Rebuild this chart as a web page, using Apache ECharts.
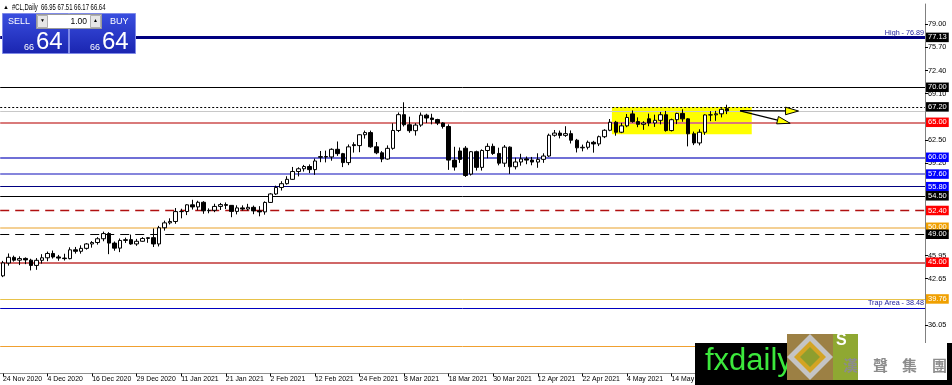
<!DOCTYPE html>
<html><head><meta charset="utf-8">
<script src="https://cdn.jsdelivr.net/npm/echarts@6/dist/echarts.min.js"></script>
<style>html,body{margin:0;padding:0;background:#fff}#c{width:952px;height:385px}</style>
</head><body><div id="c"></div>
<script>
// ---------- DATA ----------
const dates = ['24 Nov 2020','25 Nov 2020','26 Nov 2020','27 Nov 2020','30 Nov 2020',
'1 Dec 2020','2 Dec 2020','3 Dec 2020','4 Dec 2020','7 Dec 2020','8 Dec 2020','9 Dec 2020','10 Dec 2020','11 Dec 2020','14 Dec 2020','15 Dec 2020','16 Dec 2020','17 Dec 2020','18 Dec 2020','21 Dec 2020','22 Dec 2020','23 Dec 2020','24 Dec 2020','28 Dec 2020','29 Dec 2020','30 Dec 2020','31 Dec 2020',
'4 Jan 2021','5 Jan 2021','6 Jan 2021','7 Jan 2021','8 Jan 2021','11 Jan 2021','12 Jan 2021','13 Jan 2021','14 Jan 2021','15 Jan 2021','18 Jan 2021','19 Jan 2021','20 Jan 2021','21 Jan 2021','22 Jan 2021','25 Jan 2021','26 Jan 2021','27 Jan 2021','28 Jan 2021','29 Jan 2021',
'1 Feb 2021','2 Feb 2021','3 Feb 2021','4 Feb 2021','5 Feb 2021','8 Feb 2021','9 Feb 2021','10 Feb 2021','11 Feb 2021','12 Feb 2021','15 Feb 2021','16 Feb 2021','17 Feb 2021','18 Feb 2021','19 Feb 2021','22 Feb 2021','23 Feb 2021','24 Feb 2021','25 Feb 2021','26 Feb 2021',
'1 Mar 2021','2 Mar 2021','3 Mar 2021','4 Mar 2021','5 Mar 2021','8 Mar 2021','9 Mar 2021','10 Mar 2021','11 Mar 2021','12 Mar 2021','15 Mar 2021','16 Mar 2021','17 Mar 2021','18 Mar 2021','19 Mar 2021','22 Mar 2021','23 Mar 2021','24 Mar 2021','25 Mar 2021','26 Mar 2021','29 Mar 2021','30 Mar 2021','31 Mar 2021',
'1 Apr 2021','5 Apr 2021','6 Apr 2021','7 Apr 2021','8 Apr 2021','9 Apr 2021','12 Apr 2021','13 Apr 2021','14 Apr 2021','15 Apr 2021','16 Apr 2021','19 Apr 2021','20 Apr 2021','21 Apr 2021','22 Apr 2021','23 Apr 2021','26 Apr 2021','27 Apr 2021','28 Apr 2021','29 Apr 2021','30 Apr 2021',
'3 May 2021','4 May 2021','5 May 2021','6 May 2021','7 May 2021','10 May 2021','11 May 2021','12 May 2021','13 May 2021','14 May 2021','17 May 2021','18 May 2021','19 May 2021','20 May 2021','21 May 2021','24 May 2021','25 May 2021','26 May 2021','27 May 2021','28 May 2021'];

const opens = [43.06,44.90,45.70,45.30,45.55,45.30,44.55,45.28,45.64,46.26,
45.76,45.60,45.52,46.78,46.57,46.99,47.62,47.82,48.36,49.10,
47.74,47.02,48.12,48.23,47.62,48.00,48.40,48.52,47.62,49.93,
50.63,50.83,52.24,52.25,53.21,52.91,53.57,52.36,52.42,52.98,
53.24,53.13,52.27,52.77,52.61,52.85,52.34,52.20,53.55,54.76,
55.69,56.23,56.85,57.97,58.36,58.68,58.24,60.00,60.10,60.05,
61.14,60.52,59.24,61.80,61.67,63.22,63.53,61.50,60.64,59.75,
61.28,63.83,66.09,64.65,63.80,64.60,66.02,65.61,65.39,64.90,
64.40,59.60,60.90,61.30,57.60,60.80,58.56,60.97,61.56,60.55,
59.16,61.45,58.65,59.33,59.77,59.60,59.32,59.70,60.18,63.15,
63.46,63.13,63.38,62.44,61.35,61.43,62.14,61.91,62.94,63.86,
65.01,63.58,64.49,66.20,65.10,64.71,65.50,64.90,65.28,66.08,
63.82,65.37,66.27,65.49,63.36,62.05,63.58,66.05,66.07,66.21,66.95];

const highs = [45.20,46.26,45.95,45.85,45.70,45.50,45.60,46.16,46.53,46.68,
46.05,46.22,47.14,47.19,47.42,47.74,48.02,48.59,49.38,49.30,
47.97,48.40,48.52,48.96,48.34,48.59,48.58,49.83,50.20,50.94,
51.28,52.75,52.65,53.28,53.93,53.79,53.73,52.70,53.36,53.48,
53.55,53.18,53.14,53.13,53.35,53.10,53.02,53.70,54.87,55.95,
56.58,57.29,58.62,58.57,58.91,58.98,59.82,60.90,60.95,61.28,
62.26,60.63,61.83,62.15,63.30,63.81,63.81,62.18,60.88,61.70,
64.86,66.40,67.86,65.80,64.87,66.40,66.22,66.22,65.50,65.00,
64.70,61.50,61.40,61.60,60.90,60.95,61.13,61.99,61.95,61.37,
61.75,61.55,59.94,60.50,60.11,60.05,60.57,60.57,63.38,63.90,
63.82,64.44,63.84,62.63,61.81,62.39,62.35,63.10,64.01,65.47,
65.20,64.92,66.18,66.70,65.70,65.15,66.24,66.09,66.48,66.62,
65.52,66.36,66.86,65.59,63.67,64.00,66.14,66.59,66.63,67.00,67.51];

const lows = [42.88,44.52,45.10,44.60,44.73,43.84,43.92,44.81,45.16,45.53,
45.22,45.25,45.42,46.24,46.23,46.81,47.09,47.52,48.00,46.16,
46.65,46.45,47.76,47.50,47.35,47.94,47.78,47.18,47.26,49.52,
50.40,50.50,51.28,51.74,52.53,52.43,51.93,52.00,52.16,52.47,
52.61,51.44,51.84,52.39,52.40,51.87,51.57,51.80,53.50,54.62,
55.25,56.10,56.77,57.27,57.96,57.74,57.49,59.30,59.27,59.51,
60.20,58.60,58.88,60.67,60.73,62.67,61.36,60.44,59.30,59.65,
61.09,63.60,64.40,63.50,63.10,64.35,64.89,64.70,64.60,64.10,
58.20,58.10,59.20,57.20,57.40,58.10,58.10,59.86,60.34,58.85,
58.62,57.63,58.27,58.80,59.01,58.86,58.50,59.21,60.05,62.95,
62.70,62.92,61.97,60.69,60.85,61.12,60.66,61.60,62.74,63.73,
63.08,63.45,64.30,64.94,64.30,63.92,64.44,64.34,64.70,63.66,
63.69,64.74,65.08,61.56,61.74,61.70,63.20,65.16,65.21,65.70,66.17];

const closes = [44.91,45.71,45.30,45.53,45.34,44.55,45.28,45.64,46.26,45.76,
45.60,45.52,46.78,46.57,46.99,47.62,47.82,48.36,49.10,47.74,
47.02,48.12,48.23,47.62,48.00,48.40,48.52,47.62,49.93,50.63,
50.83,52.24,52.25,53.21,52.91,53.57,52.36,52.42,52.98,53.24,
53.13,52.27,52.77,52.61,52.85,52.34,52.20,53.55,54.76,55.69,
56.23,56.85,57.97,58.36,58.68,58.24,59.47,60.10,60.05,61.14,
60.52,59.24,61.49,61.67,63.22,63.53,61.50,60.64,59.75,61.28,
63.83,66.09,64.65,63.80,64.60,66.02,65.61,65.39,64.90,64.40,
59.60,58.60,59.70,57.40,60.80,58.56,60.97,61.56,60.55,59.16,
61.45,58.65,59.33,59.77,59.60,59.32,59.70,60.18,63.15,63.46,
63.13,63.38,62.44,61.35,61.43,62.14,61.91,62.94,63.86,65.01,
63.58,64.49,65.69,65.10,64.71,64.90,64.90,65.28,66.08,63.82,
65.37,66.27,65.49,63.36,62.05,63.58,66.05,66.07,66.21,66.85,66.64];

const emptySlots = 35;                 // chart shift area on the right (bars)
const labelEvery = 8;                  // date label every 8 bars
const lastLabelIndex = 120;

const yTickValues = [79.00, 75.70, 72.40, 69.10, 62.50, 59.20, 45.95, 42.65, 36.05];

const levelValues = [77.13, 70.00, 67.20, 65.00, 60.00, 57.60, 55.80, 54.50, 52.40, 50.00, 49.00, 45.00, 39.76, 38.48, 33.00];
const levelTexts  = ['77.13','70.00','67.20','65.00','60.00','57.60','55.80','54.50','52.40','50.00','49.00','45.00','39.76', '', ''];
const bidValue = 66.64;
const highNote = {value: 77.13, text: 'High - 76.89'};
const trapNote = {value: 38.48, text: 'Trap Area - 38.48'};

const yellowZone = {fromBar: 109.3, toBar: 134.4, top: 67.2, bottom: 63.3};
const arrowsData = [
  {from: [132.3, 66.66], to: [142.8, 66.61]},
  {from: [132.3, 66.62], to: [141.3, 64.86]}
];
const headerText = '#CL,Daily  66.95 67.51 66.17 66.64';

// ---------- STYLES ----------
const levelStyles = [
  {c:'#000080', w:3,   t:'solid',  bg:'#000000'},
  {c:'#000000', w:1,   t:'solid',  bg:'#000000'},
  {c:'#000000', w:1,   t:[2,2],    bg:'#000000'},
  {c:'#d97a7a', w:2,   t:'solid',  bg:'#ff0000'},
  {c:'#6f6fd6', w:2,   t:'solid',  bg:'#0000ff'},
  {c:'#8585dc', w:2,   t:'solid',  bg:'#0000ff'},
  {c:'#000080', w:1,   t:'solid',  bg:'#0000ff'},
  {c:'#000000', w:1,   t:'solid',  bg:'#000000'},
  {c:'#b01010', w:1.3, t:[9,6],    bg:'#ff0000'},
  {c:'#f0c070', w:1.5, t:'solid',  bg:'#f0a000'},
  {c:'#000000', w:1.2, t:[9,6],    bg:'#000000'},
  {c:'#c03535', w:1.5, t:'solid',  bg:'#ff0000'},
  {c:'#e8c24a', w:1,   t:'solid',  bg:'#f0a000'},
  {c:'#0000c0', w:1,   t:'solid',  bg:null},
  {c:'#f0a030', w:1,   t:'solid',  bg:null}
];
const FONT = 'Liberation Sans, Arial, sans-serif';

// ---------- BUILD ----------
const nSlots = dates.length + emptySlots;
const cats = dates.concat(Array.from({length: emptySlots}, (_, i) => 'e' + i));
const candleData = dates.map((d, i) => [opens[i], closes[i], lows[i], highs[i]]);
const showIdx = (i) => i % labelEvery === 0 && i <= lastLabelIndex;

const markLineData = levelValues.map((v, i) => {
  const s = levelStyles[i];
  return {
    yAxis: v,
    lineStyle: {color: s.c, width: s.w, type: s.t},
    label: s.bg ? {show: true, position: 'end', distance: 1, formatter: levelTexts[i],
      backgroundColor: s.bg, color: '#fff', fontSize: 7.5, fontFamily: FONT,
      padding: [1, 2, 0, 2], lineHeight: 8.5} : {show: false}
  };
});
markLineData.unshift({yAxis: bidValue, lineStyle: {color: '#c8c8c8', width: 1, type: 'solid'}, label: {show: false}});
[highNote, trapNote].forEach(n => markLineData.push({
  yAxis: n.value, lineStyle: {color: 'rgba(0,0,0,0)', width: 0},
  label: {show: true, position: 'insideEndTop', distance: 1, formatter: n.text, color: '#1a1a9a',
    fontSize: 7.2, fontFamily: FONT}
}));

const chart = echarts.init(document.getElementById('c'), null, {renderer: 'canvas', width: 952, height: 385});

const option = {
  animation: false,
  backgroundColor: '#ffffff',
  grid: {left: 0, top: 4, width: 925, height: 369.5, containLabel: false},
  xAxis: [{
    type: 'category', data: cats, boundaryGap: true,
    axisLine: {show: true, onZero: false, lineStyle: {color: '#909090', width: 1}},
    axisTick: {show: true, alignWithLabel: true, length: 3, interval: (i) => showIdx(i), lineStyle: {color: '#000'}},
    axisLabel: {interval: (i) => showIdx(i), showMinLabel: true, align: 'left', fontSize: 6.9, fontFamily: FONT, color: '#000', margin: 2},
    splitLine: {show: false}
  }, {
    type: 'value', min: -0.5, max: nSlots - 0.5, show: false
  }],
  yAxis: {
    type: 'value', position: 'right', min: 29.11, max: 81.9,
    axisLine: {show: true, onZero: false, lineStyle: {color: '#808080'}},
    axisTick: {show: true, length: 3, customValues: yTickValues, lineStyle: {color: '#000'}},
    axisLabel: {customValues: yTickValues, formatter: (v) => v.toFixed(2), fontSize: 7.3, fontFamily: FONT, color: '#000', margin: 3},
    splitLine: {show: false}
  },
  series: [{
    name: 'zone', type: 'line', xAxisIndex: 1, data: [], z: 1, silent: true,
    markArea: {silent: true, itemStyle: {color: '#ffff00', opacity: 1},
      data: [[{coord: [yellowZone.fromBar, yellowZone.top]}, {coord: [yellowZone.toBar, yellowZone.bottom]}]]}
  }, {
    name: 'levels', type: 'line', xAxisIndex: 1, data: [], z: 2, silent: true,
    markLine: {silent: true, symbol: ['none', 'none'], animation: false, data: markLineData}
  }, {
    name: 'CL', type: 'candlestick', xAxisIndex: 0, data: candleData, z: 5, barWidth: 4,
    itemStyle: {color: '#ffffff', color0: '#000000', borderColor: '#000000', borderColor0: '#000000', borderWidth: 1}
  }]
};
chart.setOption(option);

// ---------- ANNOTATIONS (arrows via axis scales) ----------
const g = [];
arrowsData.forEach(a => {
  const s = chart.convertToPixel({seriesIndex: 0}, a.from);
  const t = chart.convertToPixel({seriesIndex: 0}, a.to);
  const dx = t[0] - s[0], dy = t[1] - s[1], len = Math.hypot(dx, dy);
  const ux = dx / len, uy = dy / len, nx = -uy, ny = ux, L = 13, W = 3.8;
  const bx = t[0] - L * ux, by = t[1] - L * uy;
  g.push({type: 'polyline', z: 50, shape: {points: [s, [bx, by]]}, style: {stroke: '#000', lineWidth: 1.2, fill: null}});
  g.push({type: 'polygon', z: 51, shape: {points: [t, [bx + W * nx, by + W * ny], [bx - W * nx, by - W * ny]]},
    style: {fill: '#ffff00', stroke: '#000', lineWidth: 1}});
});

// header + trade panel
const blueGrad = new echarts.graphic.LinearGradient(0, 0, 0, 1, [{offset: 0, color: '#3a4fe0'}, {offset: 1, color: '#1a25b0'}]);
g.push(
  {type: 'text', z: 60, x: 3, y: 4, style: {text: '▲', fontSize: 6, fill: '#000'}},
  {type: 'text', z: 60, x: 12, y: 3, scaleX: 0.66, style: {text: headerText, fontSize: 9, fontFamily: FONT, fill: '#000'}},
  {type: 'rect', z: 60, shape: {x: 2.5, y: 13.5, width: 66, height: 40}, style: {fill: blueGrad, stroke: '#7f8ae8', lineWidth: 1}},
  {type: 'rect', z: 60, shape: {x: 69.5, y: 13.5, width: 66, height: 40}, style: {fill: blueGrad, stroke: '#7f8ae8', lineWidth: 1}},
  {type: 'text', z: 61, left: 8, top: 17, style: {text: 'SELL', fontSize: 9, fontFamily: FONT, fill: '#fff'}},
  {type: 'text', z: 61, left: 110, top: 17, style: {text: 'BUY', fontSize: 9, fontFamily: FONT, fill: '#fff'}},
  {type: 'rect', z: 62, shape: {x: 36.5, y: 14.5, width: 65, height: 14}, style: {fill: '#fff', stroke: '#9a9a9a', lineWidth: 1}},
  {type: 'rect', z: 63, shape: {x: 37.5, y: 15.5, width: 10, height: 12}, style: {fill: '#e6e6e6', stroke: '#b0b0b0', lineWidth: 1}},
  {type: 'rect', z: 63, shape: {x: 90.5, y: 15.5, width: 10, height: 12}, style: {fill: '#e6e6e6', stroke: '#b0b0b0', lineWidth: 1}},
  {type: 'text', z: 64, left: 40, top: 18, style: {text: '▼', fontSize: 5, fill: '#000'}},
  {type: 'text', z: 64, left: 93, top: 18, style: {text: '▲', fontSize: 5, fill: '#000'}},
  {type: 'text', z: 64, right: 952 - 87, top: 17, style: {text: '1.00', fontSize: 8.5, fontFamily: FONT, fill: '#000', align: 'right'}},
  {type: 'text', z: 61, left: 24, top: 43, style: {text: '66', fontSize: 9, fontFamily: FONT, fill: '#fff'}},
  {type: 'text', z: 61, left: 36, top: 30, style: {text: '64', fontSize: 24, fontFamily: FONT, fill: '#fff'}},
  {type: 'text', z: 61, left: 90, top: 43, style: {text: '66', fontSize: 9, fontFamily: FONT, fill: '#fff'}},
  {type: 'text', z: 61, left: 102, top: 30, style: {text: '64', fontSize: 24, fontFamily: FONT, fill: '#fff'}}
);

// bottom-right logo
g.push(
  {type: 'rect', z: 70, shape: {x: 695, y: 343, width: 257, height: 42}, style: {fill: '#000'}},
  {type: 'text', z: 71, left: 705, top: 346, style: {text: 'fxdaily', fontSize: 31, fontFamily: FONT, fill: '#3ce83c'}},
  {type: 'rect', z: 72, shape: {x: 787, y: 334, width: 46, height: 46}, style: {fill: '#9c8044'}},
  {type: 'polygon', z: 73, shape: {points: [[787, 357], [810, 334], [833, 357], [810, 380]]}, style: {fill: '#c4c4c4'}},
  {type: 'polygon', z: 74, shape: {points: [[794, 357], [810, 341], [826, 357], [810, 373]]}, style: {fill: '#d3a424'}},
  {type: 'polygon', z: 75, shape: {points: [[800, 357], [810, 347], [820, 357], [810, 367]]}, style: {fill: '#8e9e2e'}},
  {type: 'rect', z: 72, shape: {x: 833, y: 334, width: 25, height: 46}, style: {fill: '#8fa832'}},
  {type: 'rect', z: 72, shape: {x: 858, y: 343, width: 89, height: 37}, style: {fill: '#fff'}},
  {type: 'text', z: 76, left: 836, top: 333, style: {text: 'S', fontSize: 16, fontWeight: 'bold', fontFamily: FONT, fill: '#fff'}},
  {type: 'text', z: 76, left: 843, top: 358, style: {text: '漢', fontSize: 15, fontWeight: 'bold', fontFamily: 'Noto Sans CJK TC', fill: '#8c8c8c'}},
  {type: 'text', z: 76, left: 873, top: 358, style: {text: '聲', fontSize: 15, fontWeight: 'bold', fontFamily: 'Noto Sans CJK TC', fill: '#8c8c8c'}},
  {type: 'text', z: 76, left: 902, top: 358, style: {text: '集', fontSize: 15, fontWeight: 'bold', fontFamily: 'Noto Sans CJK TC', fill: '#8c8c8c'}},
  {type: 'text', z: 76, left: 932, top: 358, style: {text: '團', fontSize: 15, fontWeight: 'bold', fontFamily: 'Noto Sans CJK TC', fill: '#8c8c8c'}}
);
chart.setOption({graphic: {elements: g}});
</script></body></html>
